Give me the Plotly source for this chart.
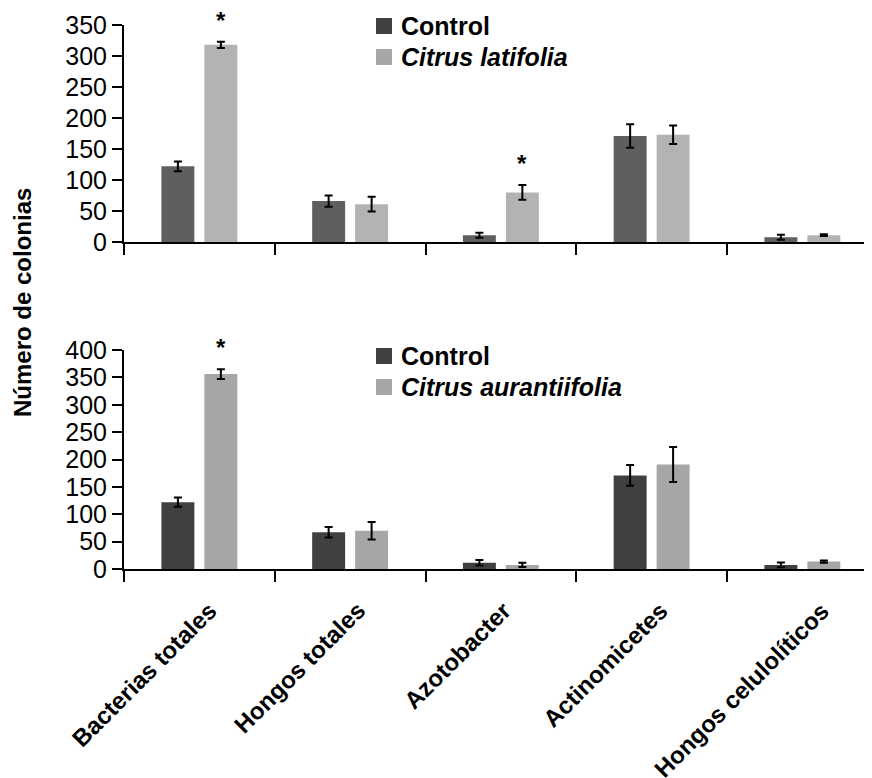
import plotly.graph_objects as go
from plotly.subplots import make_subplots

# ---------------- data ----------------
categories = ["Bacterias totales", "Hongos totales", "Azotobacter",
              "Actinomicetes", "Hongos celulolíticos"]

# Top panel: Control vs Citrus latifolia
top_control = [122, 66, 11, 171, 7.5]
top_control_err = [8, 9, 4, 19, 4]
top_latifolia = [318, 61, 80, 173, 11]
top_latifolia_err = [5, 12, 12, 15, 1.5]
top_signif = [True, False, True, False, False]

# Bottom panel: Control vs Citrus aurantiifolia
bot_control = [122, 67, 11.5, 171, 7.5]
bot_control_err = [8.5, 9.5, 5, 19, 4.3]
bot_aurantiifolia = [356, 70, 7.5, 191, 13.5]
bot_aurantiifolia_err = [9, 16, 3.7, 32, 2]
bot_signif = [True, False, False, False, False]

top_yticks = [0, 50, 100, 150, 200, 250, 300, 350]
bot_yticks = [0, 50, 100, 150, 200, 250, 300, 350, 400]

# ---------------- layout constants ----------------
# The page has an 8px body margin, so the figure is drawn 8px smaller and
# every target position (page pixels) is shifted by OFF.
OFF = 8
W, H = 872 - OFF, 778 - OFF
ML, MR = 124 - OFF, 0
MT = 25 - OFF
MB = H - (569 - OFF)
PW = W - ML - MR
PH = H - MT - MB
CAT_PX = 150.75
BARGAP = 0.43
BARGROUPGAP = 0.233
FONT = "Liberation Sans, Arial, sans-serif"
LABEL_XSHIFT = [25, 23, 18, 24, 35]   # per-label nudge of the rotated labels

def px_x(px):
    return (px - OFF - ML) / PW

def px_y(py):
    return (H - MB - (py - OFF)) / PH

top_dom = [px_y(242), 1.0]
bot_dom = [0.0, px_y(350)]

fig = make_subplots(rows=2, cols=1, shared_xaxes=False, vertical_spacing=0.1)

top_colors = ["#5f5f5f", "#b3b3b3"]
bot_colors = ["#404040", "#a6a6a6"]
legend_colors = ["#404040", "#a6a6a6"]

def add_bar(vals, errs, color, name, row):
    fig.add_trace(go.Bar(
        x=categories, y=vals, name=name, showlegend=False,
        marker=dict(color=color, line=dict(width=0)),
        error_y=dict(type="data", array=errs, visible=True,
                     color="black", thickness=2, width=4),
    ), row=row, col=1)

add_bar(top_control, top_control_err, top_colors[0], "Control", 1)
add_bar(top_latifolia, top_latifolia_err, top_colors[1], "Citrus latifolia", 1)
add_bar(bot_control, bot_control_err, bot_colors[0], "Control", 2)
add_bar(bot_aurantiifolia, bot_aurantiifolia_err, bot_colors[1], "Citrus aurantiifolia", 2)

xrange_ = [-0.5, -0.5 + PW / CAT_PX]
axis_common = dict(showline=True, linecolor="black", linewidth=2,
                   ticks="outside", tickcolor="black", tickwidth=2,
                   showgrid=False, zeroline=False)

for xa in ("xaxis", "xaxis2"):
    fig.layout[xa].update(type="category", range=xrange_, tickson="boundaries",
                          ticklen=11, showticklabels=False, **axis_common)

fig.layout.xaxis.update(anchor="y")
fig.layout.xaxis2.update(anchor="y2")
fig.layout.yaxis.update(domain=top_dom, range=[0, 350], tickvals=top_yticks,
                        ticklen=10, **axis_common)
fig.layout.yaxis2.update(domain=bot_dom, range=[0, 400], tickvals=bot_yticks,
                         ticklen=10, **axis_common)
for ya in ("yaxis", "yaxis2"):
    fig.layout[ya].tickfont = dict(family=FONT, size=25, color="black")

annotations = []
bar_shift = CAT_PX * (1 - BARGAP) / 4

# significance asterisks
for vals, errs, sig, xr, yr in [
        (top_latifolia, top_latifolia_err, top_signif, "x", "y"),
        (bot_aurantiifolia, bot_aurantiifolia_err, bot_signif, "x2", "y2")]:
    for c, v, e, s in zip(categories, vals, errs, sig):
        if s:
            annotations.append(dict(
                x=c, y=v + e, xref=xr, yref=yr, text="<b>*</b>",
                showarrow=False, xanchor="center", yanchor="bottom",
                xshift=bar_shift, yshift=6,
                font=dict(family=FONT, size=24, color="black")))

# rotated category labels
for c, xs in zip(categories, LABEL_XSHIFT):
    annotations.append(dict(
        x=c, xref="x2", y=px_y(594), yref="paper", text="<b>" + c + "</b>",
        textangle=-45, showarrow=False, xanchor="right", yanchor="top",
        xshift=xs, font=dict(family=FONT, size=24, color="black")))

# y-axis title
annotations.append(dict(
    x=px_x(22), y=px_y(303), xref="paper", yref="paper",
    text="<b>Número de colonias</b>", textangle=-90, showarrow=False,
    xanchor="center", yanchor="middle",
    font=dict(family=FONT, size=24, color="black")))

# legends (manual)
shapes = []
legend_items = [
    (["Control", "<i>Citrus latifolia</i>"], [26, 57]),
    (["Control", "<i>Citrus aurantiifolia</i>"], [356, 387]),
]
for labels, ys in legend_items:
    for lab, yc, col in zip(labels, ys, legend_colors):
        shapes.append(dict(type="rect", xref="paper", yref="paper",
                           x0=px_x(376), x1=px_x(392),
                           y0=px_y(yc + 8), y1=px_y(yc - 8),
                           fillcolor=col, line=dict(width=0)))
        annotations.append(dict(
            x=px_x(399), y=px_y(yc), xref="paper", yref="paper",
            text="<b>" + lab + "</b>", showarrow=False,
            xanchor="left", yanchor="middle",
            font=dict(family=FONT, size=25, color="black")))

fig.update_layout(
    width=W, height=H,
    margin=dict(l=ML, r=MR, t=MT, b=MB, pad=0),
    barmode="group", bargap=BARGAP, bargroupgap=BARGROUPGAP,
    plot_bgcolor="white", paper_bgcolor="white",
    showlegend=False,
    annotations=annotations, shapes=shapes,
    font=dict(family=FONT, color="black"),
)

fig.write_html("out.html")
